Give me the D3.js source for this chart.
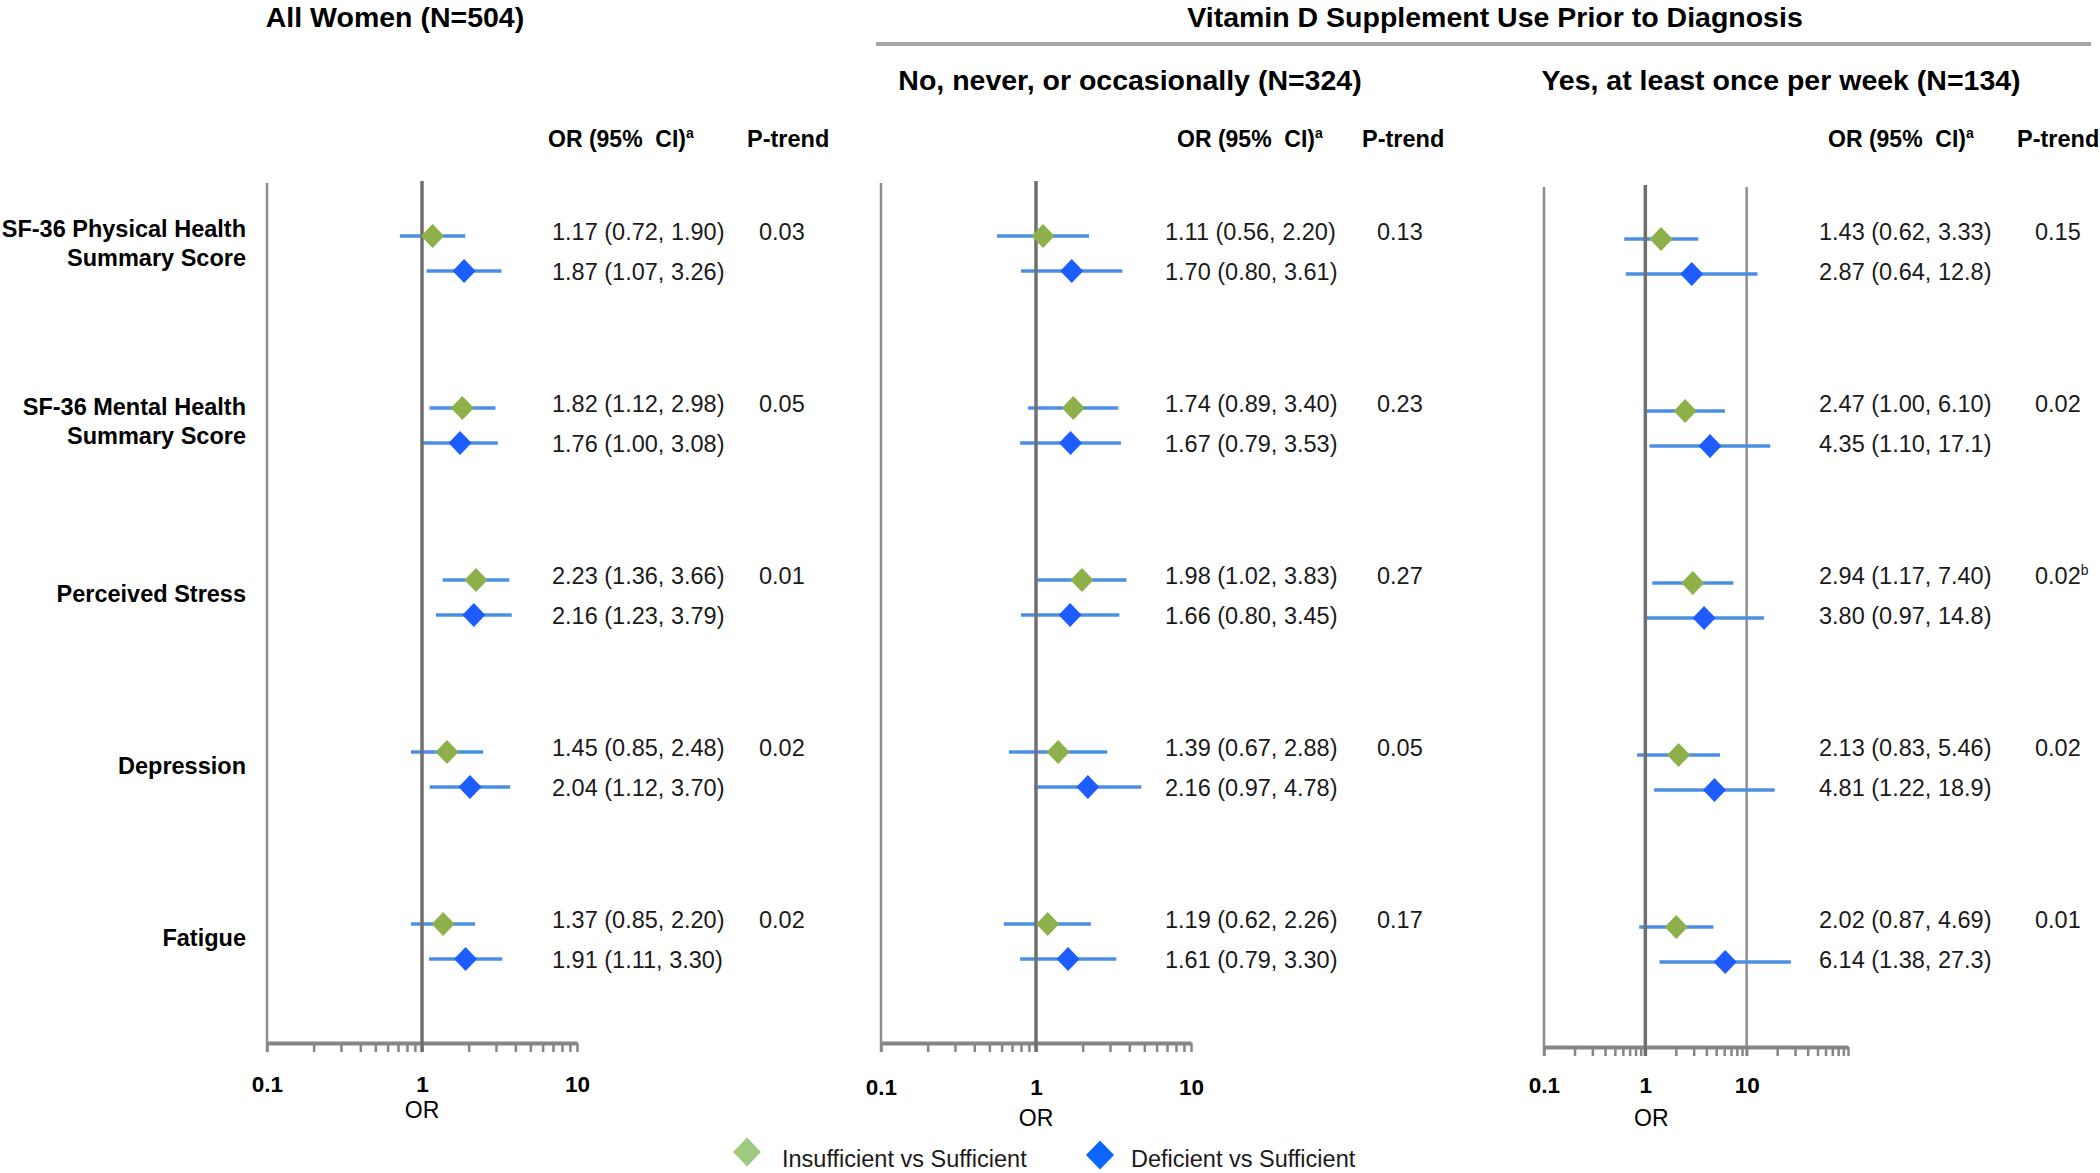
<!DOCTYPE html>
<html>
<head>
<meta charset="utf-8">
<script src="https://cdn.jsdelivr.net/npm/d3@7"></script>
<style>
  body { margin: 0; background: #fff; }
  svg text { font-family: "Liberation Sans", Arial, sans-serif; }
</style>
</head>
<body>
<svg id="chart"></svg>
<script>
// Data
const outcomes = [
    ["SF-36 Physical Health", "Summary Score"],
    ["SF-36 Mental Health", "Summary Score"],
    ["Perceived Stress"],
    ["Depression"],
    ["Fatigue"]
];
const seriesNames = ["Insufficient vs Sufficient", "Deficient vs Sufficient"];
const groupTitles = ["All Women (N=504)", "Vitamin D Supplement Use Prior to Diagnosis"];
const panelTitles = ["", "No, never, or occasionally (N=324)", "Yes, at least once per week (N=134)"];
// [OR, lower 95% CI, upper 95% CI]
const allIns = [[1.17, 0.72, 1.90], [1.82, 1.12, 2.98], [2.23, 1.36, 3.66], [1.45, 0.85, 2.48], [1.37, 0.85, 2.20]];
const allDef = [[1.87, 1.07, 3.26], [1.76, 1.00, 3.08], [2.16, 1.23, 3.79], [2.04, 1.12, 3.70], [1.91, 1.11, 3.30]];
const allP   = ["0.03", "0.05", "0.01", "0.02", "0.02"];
const noIns  = [[1.11, 0.56, 2.20], [1.74, 0.89, 3.40], [1.98, 1.02, 3.83], [1.39, 0.67, 2.88], [1.19, 0.62, 2.26]];
const noDef  = [[1.70, 0.80, 3.61], [1.67, 0.79, 3.53], [1.66, 0.80, 3.45], [2.16, 0.97, 4.78], [1.61, 0.79, 3.30]];
const noP    = ["0.13", "0.23", "0.27", "0.05", "0.17"];
const yesIns = [[1.43, 0.62, 3.33], [2.47, 1.00, 6.10], [2.94, 1.17, 7.40], [2.13, 0.83, 5.46], [2.02, 0.87, 4.69]];
const yesDef = [[2.87, 0.64, 12.8], [4.35, 1.10, 17.1], [3.80, 0.97, 14.8], [4.81, 1.22, 18.9], [6.14, 1.38, 27.3]];
const yesP   = ["0.15", "0.02", "0.02", "0.02", "0.01"];
const pNotes = [["", "", "", "", ""], ["", "", "", "", ""], ["", "", "b", "", ""]];
const xDomains = [[0.1, 10], [0.1, 10], [0.1, 100]];
const tickLabels = [[0.1, 1, 10], [0.1, 1, 10], [0.1, 1, 10]];
const gridValues = [[], [], [10]];  // extra vertical line in third panel

const panelData = [
    {ins: allIns, def: allDef, p: allP},
    {ins: noIns,  def: noDef,  p: noP},
    {ins: yesIns, def: yesDef, p: yesP}
];

// Layout, in pixels
const W = 2100, H = 1173;
const layout = [
    {x0: 267,  x1: 577,  top: 183, axisY: 1043, dy: 0, labPad: 33, orY: 1118, orDx: 0,
     valX: 552,  pX: 759,  hdrOrX: 548,  hdrPX: 747,  titleX: 0,    titleY: 0},
    {x0: 881,  x1: 1191, top: 183, axisY: 1043, dy: 0, labPad: 36, orY: 1126, orDx: 0,
     valX: 1165, pX: 1377, hdrOrX: 1177, hdrPX: 1362, titleX: 1130, titleY: 90},
    {x0: 1544, x1: 1848, top: 187, axisY: 1047, dy: 3, labPad: 30, orY: 1126, orDx: 6,
     valX: 1819, pX: 2035, hdrOrX: 1828, hdrPX: 2017, titleX: 1781, titleY: 90}
];
const colors = {ins: "#8db04b", def: "#1d5cff", ci: "#4a8fe3",
                legIns: "#9fca80", legDef: "#0a66ff", axis: "#868686", ref: "#6f6f6f", text: "#1a1a1a"};
const seriesOff = [-17.5, 17.5];   // marker offset inside a row
const textOff = [-22, 18];         // value text offset inside a row

const svg = d3.select("#chart").attr("width", W).attr("height", H);
svg.append("rect").attr("width", W).attr("height", H).attr("fill", "#fff");

const rowY = d3.scalePoint().domain(d3.range(outcomes.length)).range([253.5, 941.5]);
const fmt = v => v >= 10 ? v.toFixed(1) : v.toFixed(2);
const diamond = (w, h) => `M0,${-h}L${w},0L0,${h}L${-w},0Z`;

// Group titles
svg.append("text")
    .attr("x", 395).attr("y", 27)
    .attr("text-anchor", "middle")
    .style("font-size", "28.5px").style("font-weight", "bold")
    .text(groupTitles[0]);
svg.append("text")
    .attr("x", 1495).attr("y", 27)
    .attr("text-anchor", "middle")
    .style("font-size", "28.5px").style("font-weight", "bold")
    .text(groupTitles[1]);
svg.append("line")
    .attr("x1", 876).attr("x2", 2091).attr("y1", 44).attr("y2", 44)
    .style("stroke", "#a6a6a6").style("stroke-width", 4);

// Row labels
const rowLab = svg.selectAll(".rowLabel")
    .data(outcomes)
    .join("text")
        .attr("class", "rowLabel")
        .attr("text-anchor", "end")
        .style("font-size", "23.5px").style("font-weight", "bold");
rowLab.selectAll("tspan")
    .data((d, i) => d.map((line, j) => ({line, j, n: d.length, i})))
    .join("tspan")
        .attr("x", 246)
        .attr("y", d => rowY(d.i) - (d.n > 1 && d.i === 0 ? 10 : 4) + (d.j - (d.n - 1) / 2) * 29 + 8)
        .text(d => d.line);

panelData.forEach((pd, pi) => {
    const L = layout[pi];
    const g = svg.append("g").attr("class", "panel");
    const x = d3.scaleLog().domain(xDomains[pi]).range([L.x0, L.x1]);
    const y = i => rowY(i) + L.dy;

    if (panelTitles[pi]) {
        g.append("text")
            .attr("x", L.titleX).attr("y", L.titleY)
            .attr("text-anchor", "middle")
            .style("font-size", "28.5px").style("font-weight", "bold")
            .text(panelTitles[pi]);
    }
    // Column headers
    const hdr = g.append("text")
        .attr("x", L.hdrOrX).attr("y", 147)
        .style("font-size", "23px").style("font-weight", "bold")
        .style("white-space", "pre");
    hdr.append("tspan").text("OR (95%  CI)");
    hdr.append("tspan").attr("dy", -9).style("font-size", "14px").text("a");
    g.append("text")
        .attr("x", L.hdrPX).attr("y", 147)
        .style("font-size", "23.5px").style("font-weight", "bold")
        .text("P-trend");

    // Boundary and grid lines
    g.selectAll(".gridLine")
        .data([xDomains[pi][0]].concat(gridValues[pi]))
        .join("line")
            .attr("class", "gridLine")
            .attr("x1", d => x(d)).attr("x2", d => x(d))
            .attr("y1", L.top).attr("y2", L.axisY + 9)
            .style("stroke", "#8e8e8e").style("stroke-width", 2.5);

    // Minor/major ticks and baseline
    const tickAx = g.append("g")
        .attr("transform", `translate(0,${L.axisY})`)
        .attr("color", colors.axis)
        .call(d3.axisBottom(x).tickValues(x.ticks()).tickSize(9).tickSizeOuter(0).tickFormat(""));
    tickAx.select(".domain").style("stroke-width", 4);
    tickAx.selectAll(".tick line").style("stroke-width", 2.5);

    // Tick labels
    const labAx = g.append("g")
        .attr("transform", `translate(0,${L.axisY})`)
        .call(d3.axisBottom(x).tickValues(tickLabels[pi]).tickSize(0).tickPadding(L.labPad).tickFormat(d3.format("~g")));
    labAx.select(".domain").remove();
    labAx.attr("font-family", null).attr("font-size", null);
    labAx.selectAll("text")
        .attr("fill", "#000")
        .style("font-size", "22.5px").style("font-weight", "bold");

    g.append("text")
        .attr("x", x(1) + L.orDx).attr("y", L.orY)
        .attr("text-anchor", "middle")
        .style("font-size", "23px")
        .text("OR");

    const series = [pd.ins, pd.def];
    // CI lines
    series.forEach((s, si) => {
        g.selectAll(".ci" + si)
            .data(s)
            .join("line")
                .attr("class", "ci" + si)
                .attr("x1", d => x(d[1])).attr("x2", d => x(d[2]))
                .attr("y1", (d, i) => y(i) + seriesOff[si])
                .attr("y2", (d, i) => y(i) + seriesOff[si])
                .style("stroke", colors.ci).style("stroke-width", 3.5);
    });
    // Reference line at OR = 1
    g.append("line")
        .attr("x1", x(1)).attr("x2", x(1))
        .attr("y1", L.top - 2).attr("y2", L.axisY + 9)
        .style("stroke", colors.ref).style("stroke-width", 3.5);
    // Point estimates
    series.forEach((s, si) => {
        g.selectAll(".pt" + si)
            .data(s)
            .join("path")
                .attr("class", "pt" + si)
                .attr("d", diamond(11.5, 12))
                .attr("transform", (d, i) => `translate(${x(d[0])},${y(i) + seriesOff[si]})`)
                .style("fill", si === 0 ? colors.ins : colors.def);
        // Value text
        g.selectAll(".val" + si)
            .data(s)
            .join("text")
                .attr("class", "val" + si)
                .attr("x", L.valX)
                .attr("y", (d, i) => rowY(i) + textOff[si])
                .attr("dy", "0.35em")
                .style("font-size", "23.5px")
                .attr("fill", colors.text)
                .text(d => `${fmt(d[0])} (${fmt(d[1])}, ${fmt(d[2])})`);
    });
    // P-trend
    const pt = g.selectAll(".ptrend")
        .data(pd.p)
        .join("text")
            .attr("class", "ptrend")
            .attr("x", L.pX)
            .attr("y", (d, i) => rowY(i) + textOff[0])
            .attr("dy", "0.35em")
            .style("font-size", "23.5px")
            .attr("fill", colors.text);
    pt.append("tspan").text(d => d);
    pt.append("tspan")
        .attr("dy", -9)
        .style("font-size", "14px")
        .text((d, i) => pNotes[pi][i]);
});

// Legend
const legend = [
    {x: 747, y: 1152, tx: 782, fill: colors.legIns},
    {x: 1100, y: 1155, tx: 1131, fill: colors.legDef}
];
svg.selectAll(".legMark")
    .data(legend)
    .join("path")
        .attr("class", "legMark")
        .attr("d", diamond(14, 14.5))
        .attr("transform", d => `translate(${d.x},${d.y})`)
        .style("fill", d => d.fill);
svg.selectAll(".legText")
    .data(legend)
    .join("text")
        .attr("class", "legText")
        .attr("x", d => d.tx).attr("y", 1167)
        .style("font-size", "23.5px")
        .attr("fill", colors.text)
        .text((d, i) => seriesNames[i]);
</script>
</body>
</html>
